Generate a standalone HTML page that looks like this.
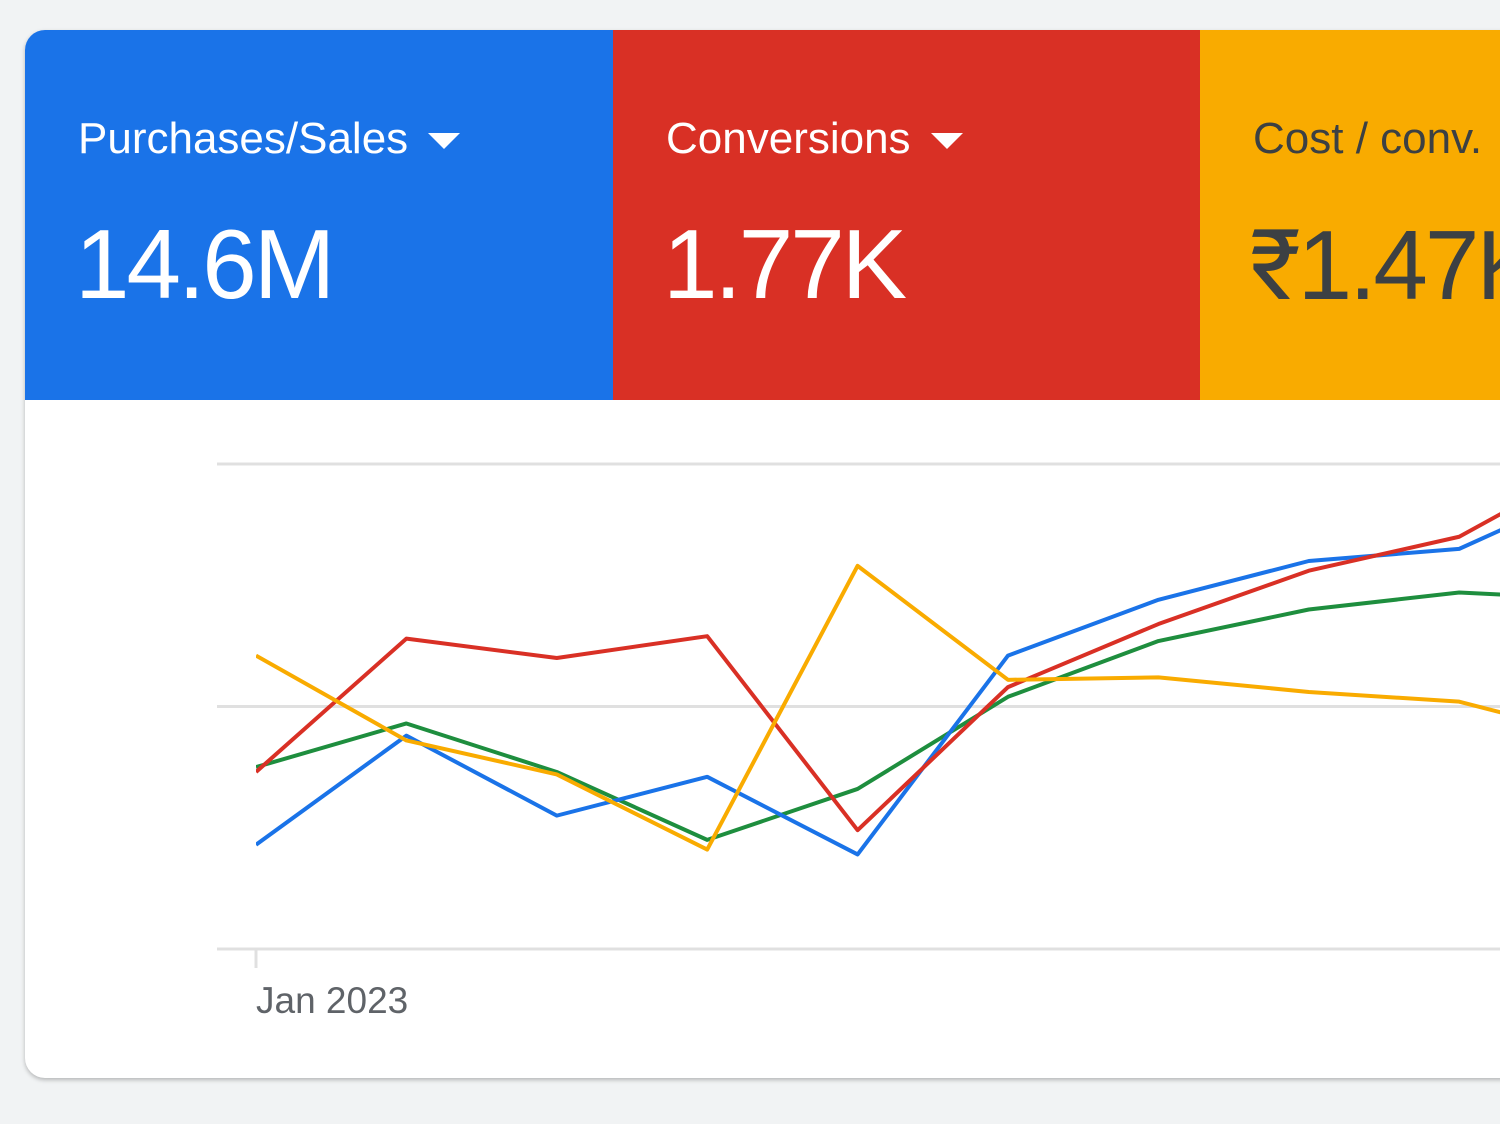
<!DOCTYPE html>
<html><head><meta charset="utf-8"><style>
body{margin:0;width:1500px;height:1124px;background:#f1f3f4;overflow:hidden;font-family:"Liberation Sans",Roboto,sans-serif;position:relative}
.card{position:absolute;left:25px;top:30px;width:1500px;height:1048px;background:#fff;border-radius:20px;box-shadow:0 2px 4px rgba(0,0,0,.25);overflow:hidden}
.tile{position:absolute;top:0;height:370px}
.lbl{position:absolute;left:53px;top:84px;font-size:44px;white-space:nowrap}
.val{position:absolute;left:50px;top:178px;font-size:98px;white-space:nowrap;letter-spacing:-3px}
.arrow{display:inline-block;width:0;height:0;border-left:16px solid transparent;border-right:16px solid transparent;border-top:16px solid currentColor;vertical-align:middle;margin-left:20px}
svg{position:absolute;left:0;top:0}
</style></head><body>
<div class="card">
 <div class="tile" style="left:0;width:588px;background:#1a73e8;color:#fff">
  <div class="lbl">Purchases/Sales<span class="arrow"></span></div>
  <div class="val">14.6M</div></div>
 <div class="tile" style="left:588px;width:587px;background:#d93025;color:#fff">
  <div class="lbl">Conversions<span class="arrow"></span></div>
  <div class="val">1.77K</div></div>
 <div class="tile" style="left:1175px;width:400px;background:#f9ab00;color:#3c4043">
  <div class="lbl">Cost / conv.</div>
  <div class="val">₹1.47K</div></div>
</div>
<svg id="chart" width="1500" height="1124"></svg>
<script>
const categories=["Jan","Feb","Mar","Apr","May","Jun","Jul","Aug","Sep","Oct"];
const purchases=[0.43,0.88,0.55,0.71,0.39,1.21,1.44,1.60,1.65,1.93];
const conversions=[0.73,1.28,1.20,1.29,0.49,1.08,1.34,1.56,1.70,2.04];
const series3=[0.75,0.93,0.73,0.45,0.66,1.04,1.27,1.40,1.47,1.44];
const costPerConv=[1.21,0.86,0.72,0.41,1.58,1.11,1.12,1.06,1.02,0.86];
const gridValues=[0,1,2];
const tickLabels=["Jan 2023"];
const NS="http://www.w3.org/2000/svg";
const svg=document.getElementById('chart');
const x=i=>256+i*150.4;
const y=v=>949-v*242.5;
function mk(t,a){const e=document.createElementNS(NS,t);for(const k in a)e.setAttribute(k,a[k]);svg.appendChild(e);return e;}
gridValues.forEach(g=>{const l=mk('line',{x1:217,x2:1500,y1:y(g),y2:y(g),stroke:'#e0e0e0','stroke-width':3});

});
const tk=mk('line',{x1:256,x2:256,y1:950,y2:968,stroke:'#e0e0e0','stroke-width':3});


const tl=mk('text',{x:256,y:1013,'font-size':37,fill:'#5f6368','font-family':'Liberation Sans, sans-serif'});
tl.textContent=tickLabels[0];


const defs=[[series3,'#1e8e3e','line-series-green'],[purchases,'#1a73e8','line-purchases'],[conversions,'#d93025','line-conversions'],[costPerConv,'#f9ab00','line-cost-per-conv']];
const cp=mk('clipPath',{id:'c'});const r=document.createElementNS(NS,'rect');r.setAttribute('x',256);r.setAttribute('y',400);r.setAttribute('width',1300);r.setAttribute('height',600);cp.appendChild(r);
defs.forEach(([d,c,n])=>{const p=mk('polyline',{points:d.map((v,i)=>x(i)+','+y(v)).join(' '),fill:'none',stroke:c,'stroke-width':4,'stroke-linejoin':'round','clip-path':'url(#c)'});

});
</script>
</body></html>
